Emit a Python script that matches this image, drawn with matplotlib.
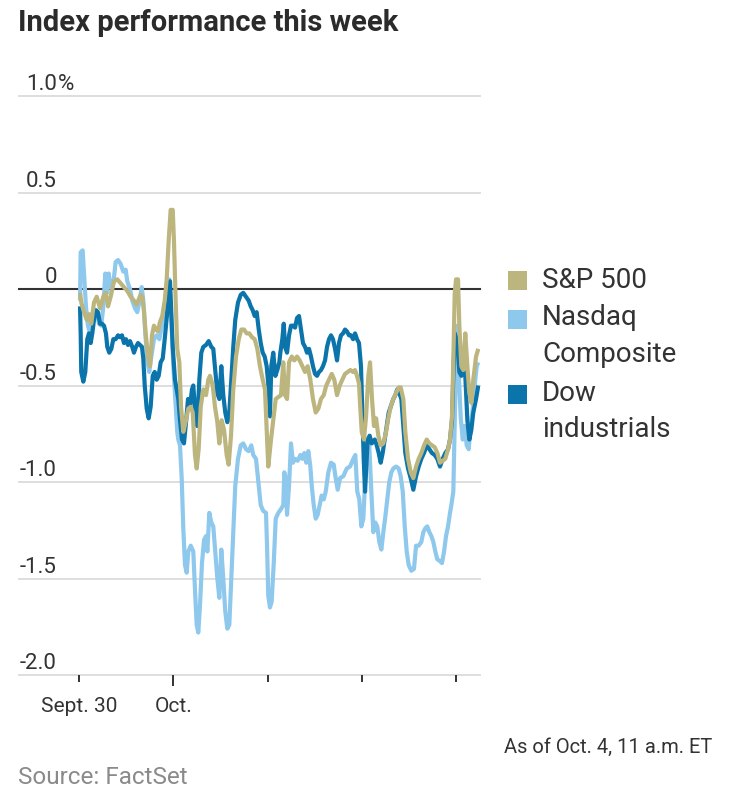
import matplotlib
matplotlib.use("Agg")
import matplotlib.pyplot as plt
from matplotlib.patches import Rectangle

plt.rcParams['font.family'] = ['Roboto', 'DejaVu Sans']

# (trading days since Sept. 30 open, % change)
sp500 = [
    (0.011, -0.02), (0.024, -0.07), (0.053, -0.12), (0.082, -0.16), (0.106, -0.13),
    (0.130, -0.18), (0.159, -0.07), (0.188, -0.04), (0.223, -0.10), (0.258, -0.04),
    (0.283, -0.02), (0.308, -0.09), (0.336, -0.04), (0.371, 0.04), (0.406, 0.05),
    (0.442, 0.03), (0.477, 0.01), (0.512, -0.01), (0.548, -0.04), (0.583, -0.06),
    (0.612, -0.08), (0.636, -0.05), (0.654, -0.03), (0.671, -0.04), (0.689, -0.11),
    (0.707, -0.23), (0.732, -0.35), (0.753, -0.40), (0.774, -0.24), (0.795, -0.19),
    (0.817, -0.21), (0.838, -0.22), (0.859, -0.17), (0.883, -0.14), (0.909, -0.06),
    (0.930, 0.05), (0.951, 0.25), (0.972, 0.41), (0.994, 0.41), (1.007, 0.25),
    (1.025, -0.06), (1.042, -0.31), (1.064, -0.38), (1.082, -0.61), (1.106, -0.74),
    (1.135, -0.68), (1.159, -0.62), (1.185, -0.61), (1.206, -0.64), (1.230, -0.86),
    (1.248, -0.93), (1.269, -0.83), (1.291, -0.61), (1.318, -0.52), (1.347, -0.55),
    (1.371, -0.47), (1.389, -0.45), (1.418, -0.50), (1.442, -0.61), (1.467, -0.69),
    (1.488, -0.80), (1.513, -0.68), (1.538, -0.73), (1.566, -0.86), (1.587, -0.91),
    (1.612, -0.76), (1.636, -0.52), (1.665, -0.35), (1.694, -0.26), (1.721, -0.21),
    (1.750, -0.21), (1.778, -0.23), (1.806, -0.23), (1.835, -0.25), (1.863, -0.26),
    (1.891, -0.31), (1.919, -0.40), (1.948, -0.47), (1.972, -0.52), (2.007, -0.92),
    (2.036, -0.78), (2.060, -0.68), (2.086, -0.57), (2.113, -0.56), (2.142, -0.55),
    (2.166, -0.38), (2.185, -0.55), (2.206, -0.57), (2.227, -0.38), (2.256, -0.35),
    (2.283, -0.37), (2.312, -0.35), (2.340, -0.37), (2.368, -0.40), (2.397, -0.43),
    (2.425, -0.40), (2.453, -0.47), (2.481, -0.57), (2.510, -0.64), (2.538, -0.62),
    (2.566, -0.57), (2.595, -0.55), (2.622, -0.50), (2.651, -0.47), (2.680, -0.44),
    (2.707, -0.47), (2.736, -0.55), (2.765, -0.50), (2.792, -0.47), (2.821, -0.44),
    (2.849, -0.43), (2.877, -0.42), (2.906, -0.43), (2.927, -0.42), (2.948, -0.45),
    (2.969, -0.49), (2.980, -0.59), (2.998, -0.74), (3.022, -0.78), (3.044, -0.66),
    (3.068, -0.45), (3.086, -0.38), (3.107, -0.57), (3.128, -0.71), (3.150, -0.67),
    (3.174, -0.76), (3.199, -0.81), (3.227, -0.80), (3.256, -0.74), (3.280, -0.67),
    (3.305, -0.61), (3.333, -0.57), (3.362, -0.54), (3.390, -0.51), (3.411, -0.51),
    (3.439, -0.57), (3.460, -0.74), (3.489, -0.88), (3.518, -0.95), (3.545, -0.98),
    (3.574, -0.92), (3.602, -0.88), (3.630, -0.85), (3.659, -0.81), (3.687, -0.78),
    (3.715, -0.80), (3.743, -0.81), (3.772, -0.82), (3.800, -0.85), (3.828, -0.90),
    (3.857, -0.89), (3.884, -0.88), (3.913, -0.83), (3.934, -0.78), (3.955, -0.66),
    (3.969, -0.37), (3.984, -0.02), (3.998, 0.05), (4.019, 0.05), (4.033, -0.19),
    (4.054, -0.40), (4.075, -0.42), (4.096, -0.23), (4.118, -0.40), (4.139, -0.54),
    (4.160, -0.59), (4.181, -0.47), (4.210, -0.35), (4.234, -0.31),
]

nasdaq = [
    (0.011, -0.06), (0.018, 0.19), (0.039, 0.20), (0.053, 0.08), (0.074, -0.09),
    (0.095, -0.19), (0.117, -0.23), (0.141, -0.16), (0.166, -0.11), (0.188, -0.12),
    (0.212, -0.18), (0.236, -0.19), (0.258, -0.09), (0.279, 0.08), (0.300, -0.02),
    (0.315, 0.08), (0.336, 0.01), (0.364, 0.03), (0.389, 0.14), (0.414, 0.15),
    (0.442, 0.13), (0.470, 0.09), (0.495, 0.10), (0.512, 0.04), (0.541, 0.00),
    (0.565, -0.06), (0.594, -0.10), (0.618, -0.12), (0.644, -0.06), (0.665, 0.01),
    (0.682, -0.06), (0.703, -0.23), (0.724, -0.37), (0.745, -0.43), (0.767, -0.35),
    (0.795, -0.26), (0.824, -0.24), (0.852, -0.26), (0.880, -0.19), (0.909, -0.11),
    (0.936, 0.01), (0.958, 0.05), (0.979, -0.16), (1.000, -0.40), (1.021, -0.57),
    (1.042, -0.74), (1.053, -0.78), (1.071, -0.81), (1.089, -0.98), (1.106, -1.24),
    (1.124, -1.43), (1.142, -1.47), (1.159, -1.36), (1.185, -1.33), (1.212, -1.36),
    (1.233, -1.59), (1.248, -1.74), (1.265, -1.78), (1.283, -1.64), (1.304, -1.42),
    (1.326, -1.30), (1.347, -1.28), (1.361, -1.36), (1.382, -1.16), (1.403, -1.21),
    (1.424, -1.23), (1.445, -1.36), (1.467, -1.50), (1.488, -1.60), (1.509, -1.35),
    (1.530, -1.50), (1.551, -1.67), (1.573, -1.76), (1.594, -1.74), (1.615, -1.50),
    (1.636, -1.26), (1.657, -1.02), (1.686, -0.88), (1.715, -0.81), (1.742, -0.80),
    (1.771, -0.83), (1.799, -0.84), (1.827, -0.81), (1.848, -0.86), (1.877, -0.88),
    (1.898, -0.98), (1.927, -1.12), (1.954, -1.15), (1.983, -1.16), (1.994, -1.33),
    (2.007, -1.59), (2.025, -1.65), (2.043, -1.62), (2.065, -1.42), (2.086, -1.19),
    (2.113, -1.16), (2.142, -1.14), (2.166, -1.12), (2.177, -0.95), (2.192, -0.98),
    (2.206, -1.17), (2.227, -1.02), (2.248, -0.80), (2.269, -0.90), (2.291, -0.88),
    (2.319, -0.89), (2.347, -0.86), (2.368, -0.88), (2.389, -0.85), (2.410, -0.90),
    (2.432, -0.84), (2.453, -0.92), (2.468, -1.02), (2.489, -1.12), (2.510, -1.19),
    (2.531, -1.17), (2.552, -1.12), (2.573, -1.07), (2.595, -1.09), (2.616, -1.05),
    (2.644, -0.95), (2.672, -0.90), (2.701, -0.91), (2.722, -0.98), (2.743, -1.04),
    (2.768, -0.98), (2.803, -0.97), (2.839, -0.93), (2.874, -0.92), (2.909, -0.88),
    (2.930, -0.86), (2.951, -1.05), (2.972, -1.09), (2.994, -1.23), (3.015, -1.19),
    (3.036, -0.97), (3.057, -0.80), (3.078, -0.81), (3.100, -1.05), (3.121, -1.26),
    (3.142, -1.21), (3.163, -1.23), (3.184, -1.31), (3.206, -1.35), (3.227, -1.26),
    (3.248, -1.18), (3.269, -1.09), (3.290, -1.00), (3.312, -0.95), (3.333, -0.93),
    (3.362, -0.92), (3.390, -0.93), (3.411, -0.97), (3.433, -1.05), (3.454, -1.23),
    (3.475, -1.36), (3.496, -1.43), (3.524, -1.46), (3.552, -1.45), (3.574, -1.33),
    (3.602, -1.33), (3.630, -1.31), (3.651, -1.26), (3.672, -1.24), (3.693, -1.23),
    (3.715, -1.26), (3.736, -1.28), (3.757, -1.31), (3.778, -1.36), (3.799, -1.40),
    (3.828, -1.41), (3.849, -1.42), (3.871, -1.36), (3.892, -1.28), (3.913, -1.23),
    (3.934, -1.16), (3.948, -1.12), (3.969, -1.05), (3.984, -0.71), (3.998, -0.37),
    (4.012, -0.19), (4.026, -0.43), (4.048, -0.67), (4.069, -0.78), (4.090, -0.71),
    (4.111, -0.81), (4.132, -0.83), (4.154, -0.71), (4.175, -0.62), (4.196, -0.50),
    (4.217, -0.40), (4.234, -0.38),
]

dow = [
    (0.011, -0.09), (0.018, -0.23), (0.024, -0.43), (0.046, -0.48), (0.067, -0.43),
    (0.088, -0.26), (0.106, -0.23), (0.124, -0.28), (0.141, -0.23), (0.159, -0.16),
    (0.180, -0.11), (0.201, -0.12), (0.223, -0.18), (0.244, -0.18), (0.265, -0.19),
    (0.286, -0.23), (0.300, -0.30), (0.321, -0.33), (0.343, -0.31), (0.364, -0.26),
    (0.389, -0.26), (0.414, -0.24), (0.435, -0.25), (0.456, -0.24), (0.477, -0.28),
    (0.498, -0.26), (0.520, -0.29), (0.541, -0.27), (0.565, -0.30), (0.583, -0.33),
    (0.604, -0.30), (0.626, -0.28), (0.647, -0.29), (0.668, -0.30), (0.682, -0.36),
    (0.697, -0.50), (0.718, -0.62), (0.739, -0.67), (0.760, -0.61), (0.782, -0.45),
    (0.803, -0.43), (0.824, -0.47), (0.845, -0.45), (0.866, -0.38), (0.888, -0.36),
    (0.909, -0.26), (0.936, -0.12), (0.965, 0.04), (0.994, -0.30), (1.018, -0.47),
    (1.036, -0.52), (1.053, -0.57), (1.071, -0.68), (1.092, -0.78), (1.113, -0.80),
    (1.135, -0.69), (1.156, -0.57), (1.177, -0.61), (1.198, -0.52), (1.212, -0.50),
    (1.233, -0.64), (1.254, -0.71), (1.276, -0.47), (1.297, -0.33), (1.318, -0.30),
    (1.347, -0.29), (1.375, -0.27), (1.403, -0.30), (1.424, -0.31), (1.445, -0.42),
    (1.467, -0.54), (1.488, -0.57), (1.509, -0.40), (1.530, -0.55), (1.551, -0.64),
    (1.573, -0.69), (1.594, -0.64), (1.615, -0.47), (1.636, -0.30), (1.657, -0.16),
    (1.686, -0.07), (1.715, -0.03), (1.742, -0.02), (1.771, -0.04), (1.799, -0.06),
    (1.821, -0.09), (1.842, -0.11), (1.863, -0.14), (1.884, -0.12), (1.906, -0.21),
    (1.927, -0.28), (1.948, -0.33), (1.969, -0.35), (1.990, -0.40), (2.012, -0.52),
    (2.025, -0.66), (2.039, -0.40), (2.060, -0.33), (2.082, -0.45), (2.103, -0.42),
    (2.124, -0.38), (2.135, -0.33), (2.156, -0.26), (2.171, -0.18), (2.185, -0.30),
    (2.206, -0.33), (2.227, -0.24), (2.248, -0.19), (2.269, -0.19), (2.291, -0.20),
    (2.312, -0.15), (2.333, -0.14), (2.354, -0.21), (2.375, -0.28), (2.397, -0.30),
    (2.418, -0.33), (2.439, -0.31), (2.460, -0.35), (2.481, -0.40), (2.503, -0.44),
    (2.524, -0.45), (2.545, -0.43), (2.566, -0.42), (2.587, -0.40), (2.609, -0.37),
    (2.630, -0.30), (2.651, -0.26), (2.672, -0.24), (2.693, -0.26), (2.715, -0.31),
    (2.736, -0.37), (2.757, -0.28), (2.778, -0.24), (2.800, -0.23), (2.821, -0.21),
    (2.842, -0.22), (2.863, -0.24), (2.884, -0.24), (2.906, -0.26), (2.927, -0.23),
    (2.948, -0.26), (2.969, -0.28), (2.990, -0.40), (3.004, -0.64), (3.019, -0.88),
    (3.033, -1.05), (3.047, -0.92), (3.061, -0.78), (3.082, -0.76), (3.104, -0.80),
    (3.136, -0.78), (3.157, -0.81), (3.178, -0.85), (3.199, -0.90), (3.220, -0.85),
    (3.242, -0.78), (3.263, -0.71), (3.284, -0.64), (3.305, -0.61), (3.333, -0.57),
    (3.354, -0.55), (3.375, -0.52), (3.397, -0.54), (3.418, -0.57), (3.439, -0.71),
    (3.460, -0.85), (3.489, -0.93), (3.517, -0.98), (3.545, -1.04), (3.574, -0.97),
    (3.602, -0.92), (3.630, -0.88), (3.658, -0.85), (3.687, -0.81), (3.715, -0.83),
    (3.743, -0.85), (3.772, -0.86), (3.799, -0.88), (3.828, -0.92), (3.857, -0.88),
    (3.884, -0.85), (3.913, -0.83), (3.934, -0.78), (3.955, -0.68), (3.969, -0.45),
    (3.984, -0.23), (3.998, -0.25), (4.019, -0.33), (4.033, -0.43), (4.054, -0.45),
    (4.075, -0.42), (4.096, -0.45), (4.118, -0.68), (4.139, -0.78), (4.160, -0.73),
    (4.181, -0.64), (4.210, -0.57), (4.234, -0.50),
]

series_names = ["S&P 500", "Nasdaq Composite", "Dow industrials"]
series_colors = ["#bcb57e", "#8ec8ec", "#0b74ab"]

y_ticks = [1.0, 0.5, 0.0, -0.5, -1.0, -1.5, -2.0]
y_labels = ["1.0", "0.5", "0", "-0.5", "-1.0", "-1.5", "-2.0"]
x_ticks = [0, 1, 2, 3, 4]
x_labels = ["Sept. 30", "Oct.", "", "", ""]

W, H = 736, 800
fig = plt.figure(figsize=(W / 100, H / 100), dpi=100)
fig.patch.set_facecolor("white")


def fx(px):
    return px / W


def fy(py):
    return 1 - py / H


ax = fig.add_axes([fx(19), fy(675), fx(480) - fx(19), fy(96) - fy(675)])
ax.set_xlim(-0.636, 4.252)
ax.set_ylim(-2.0, 1.0)
for s in ax.spines.values():
    s.set_visible(False)

for v in y_ticks:
    if v == 0:
        ax.axhline(v, color="#333333", lw=1.5, zorder=3, clip_on=False)
    else:
        ax.axhline(v, color="#dedede", lw=1.4, zorder=1, clip_on=False)

# draw order: Nasdaq, Dow, S&P on top
for data, col, z in [(nasdaq, series_colors[1], 4), (dow, series_colors[2], 5), (sp500, series_colors[0], 6)]:
    t, v = zip(*data)
    ax.plot(t, v, color=col, lw=3.0, zorder=z, solid_joinstyle="round", solid_capstyle="butt")

ax.set_yticks([])
ax.set_xticks(x_ticks)
ax.set_xticklabels(x_labels)
ax.tick_params(axis="x", length=5, width=1.4, color="#333333", pad=11,
               labelsize=15, labelcolor="#333333")
ax.xaxis.get_major_ticks()[1].tick1line.set_markersize(8)

for v, lab in zip(y_ticks, y_labels):
    ax.annotate(lab, xy=((57 - 19) / 461, v), xycoords=("axes fraction", "data"),
                xytext=(0, 4), textcoords="offset points", ha="right", va="baseline",
                fontsize=16, color="#333333")
ax.annotate("%", xy=((58 - 19) / 461, 1.0), xycoords=("axes fraction", "data"),
            xytext=(0, 4), textcoords="offset points", ha="left", va="baseline",
            fontsize=16, color="#333333")

fig.text(fx(18), fy(31), "Index performance this week", fontsize=21,
         fontweight="bold", color="#2b2b2b", ha="left", va="baseline")

# legend
legend_rows = [
    (series_colors[0], 271, ["S&P 500"], [288]),
    (series_colors[1], 310, ["Nasdaq", "Composite"], [325, 362]),
    (series_colors[2], 385, ["Dow", "industrials"], [401, 437]),
]
for col, top, lines, bases in legend_rows:
    fig.add_artist(Rectangle((fx(508), fy(top + 19)), fx(19), 19 / H,
                             transform=fig.transFigure, color=col, lw=0))
    for txt, b in zip(lines, bases):
        fig.text(fx(542), fy(b), txt, fontsize=20, color="#333333",
                 ha="left", va="baseline")

fig.text(fx(712), fy(753), "As of Oct. 4, 11 a.m. ET", fontsize=14.5,
         color="#333333", ha="right", va="baseline")
fig.text(fx(18), fy(784), "Source: FactSet", fontsize=17.5,
         color="#8a8a8a", ha="left", va="baseline")

fig.savefig("out.png", dpi=100, facecolor="white")
